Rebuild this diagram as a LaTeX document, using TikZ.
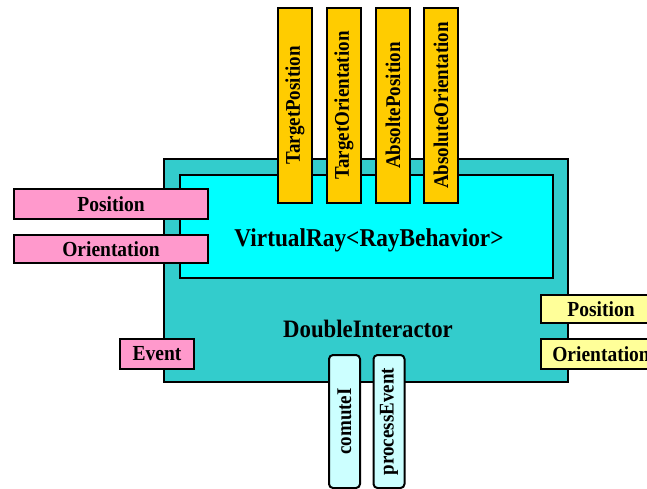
\documentclass[tikz,border=0pt]{standalone}
\usepackage{fontspec}
\setmainfont{Liberation Serif}
\definecolor{outerteal}{HTML}{33CCCC}
\definecolor{innercyan}{HTML}{00FFFF}
\definecolor{portpink}{HTML}{FF99CC}
\definecolor{portgold}{HTML}{FFCC00}
\definecolor{portyellow}{HTML}{FFFF99}
\definecolor{portice}{HTML}{CCFFFF}
% bold labels, set a little taller than wide
\newcommand{\tallbf}[2]{\scalebox{1}[1.1]{\bfseries\fontsize{#1}{#1}\selectfont #2}}
\tikzset{
  blk/.style={draw=black, line width=2pt, inner sep=0pt},
  inport/.style={blk, fill=portpink},
  outport/.style={blk, fill=portyellow},
  topport/.style={blk, fill=portgold, rotate=90, minimum width=195pt, minimum height=34pt},
  botport/.style={blk, fill=portice, rotate=90, rounded corners=4pt, minimum width=133pt, minimum height=31pt},
}
\begin{document}
\begin{tikzpicture}[x=1pt, y=-1pt]
\useasboundingbox (0,0) rectangle (647,489);
\clip (0,0) rectangle (647,489);
% component frame and embedded ray behaviour
\node[blk, fill=outerteal, minimum width=404pt, minimum height=223pt] (outer) at (366,270.5) {};
\node[blk, fill=innercyan, minimum width=373pt, minimum height=103pt] (inner) at (366.5,226.5) {};
\node (vray) at (369,240) {\tallbf{23.3}{VirtualRay<RayBehavior>}};
\node (dint) at (368,329) {\tallbf{22.8}{DoubleInteractor}};
% fields on top
\node[topport] (tpos) at (295,105.5) {\tallbf{19}{TargetPosition}};
\node[topport] (tori) at (344,105.5) {\tallbf{19}{TargetOrientation}};
\node[topport] (apos) at (393,105.5) {\tallbf{19}{AbsoltePosition}};
\node[topport] (aori) at (441,105.5) {\tallbf{19}{AbsoluteOrientation}};
% inputs on the left
\node[inport, minimum width=194pt, minimum height=30pt] (lpos) at (111,204) {\tallbf{19.5}{Position}};
\node[inport, minimum width=194pt, minimum height=28pt] (lori) at (111,249) {\tallbf{19.5}{Orientation}};
\node[inport, minimum width=74pt, minimum height=30pt] (evt) at (157,354) {\raisebox{-2pt}{\tallbf{19.5}{Event}}};
% outputs on the right
\node[outport, minimum width=120pt, minimum height=28pt, anchor=west] (rpos) at (540,309) {\raisebox{-4pt}{\tallbf{19.5}{Position}}};
\node[outport, minimum width=120pt, minimum height=30pt, anchor=west] (rori) at (540,354) {\raisebox{-3pt}{\tallbf{19.5}{Orientation}}};
% methods below
\node[botport] (cmp) at (344.5,421.5) {\tallbf{19}{comuteI}};
\node[botport] (pev) at (389,421.5) {\tallbf{19}{processEvent}};
\end{tikzpicture}
\end{document}
